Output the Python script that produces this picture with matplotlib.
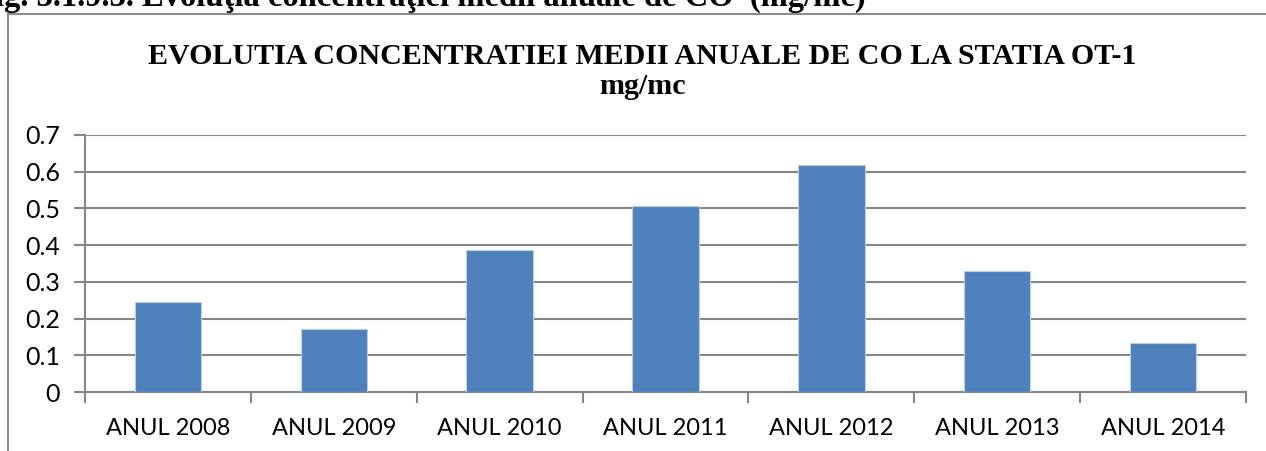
import matplotlib.pyplot as plt
from matplotlib.patches import Rectangle
from matplotlib.ticker import FixedLocator, NullFormatter

# Data
years = ["ANUL 2008", "ANUL 2009", "ANUL 2010", "ANUL 2011",
         "ANUL 2012", "ANUL 2013", "ANUL 2014"]
co_mg_mc = [0.245, 0.171, 0.387, 0.507, 0.619, 0.330, 0.133]
y_ticks = [0, 0.1, 0.2, 0.3, 0.4, 0.5, 0.6, 0.7]
y_labels = ["0", "0.1", "0.2", "0.3", "0.4", "0.5", "0.6", "0.7"]

BAR = "#4F81BD"
GRID = "#868686"
W, H = 1266, 451

fig = plt.figure(figsize=(W / 100, H / 100), dpi=100)

# outer chart frame (right and bottom run off the image)
fig.patches.append(Rectangle((8 / W, -0.1), 1.2, 1.1 - 14 / H,
                             transform=fig.transFigure, fill=False,
                             edgecolor="#8c8c8c", linewidth=1.5))

# caption above the frame, cut at the top of the image as in the source
fig.text(-16 / W, 1 - 6 / H, "fig. 3.1.9.3. Evoluţia concentraţiei medii anuale de CO  (mg/mc)",
         family="Liberation Serif", fontweight="bold", fontsize=23.5,
         ha="left", va="baseline")

fig.text(642 / W, 1 - 57 / H, "EVOLUTIA CONCENTRATIEI MEDII ANUALE DE CO LA STATIA OT-1",
         family="Liberation Serif", fontweight="bold", fontsize=21.6,
         ha="center", va="center")
fig.text(642 / W, 1 - 87 / H, "mg/mc",
         family="Liberation Serif", fontweight="bold", fontsize=21.6,
         ha="center", va="center")

ax = fig.add_axes([85 / W, 1 - 392 / H, (1246 - 85) / W, (392 - 135) / H])
x = range(len(years))
ax.bar(x, co_mg_mc, width=0.4, color=BAR, edgecolor="#b9cde5",
       linewidth=0.8, zorder=3)

ax.set_xlim(-0.5, len(years) - 0.5)
ax.set_ylim(0, 0.7)
ax.set_yticks(y_ticks)
ax.set_yticklabels(y_labels, family="Lato", fontsize=18)
ax.yaxis.grid(True, color=GRID, linewidth=1.5, zorder=0)

ax.set_xticks(list(x))
ax.set_xticklabels(years, family="Lato", fontsize=17)
ax.tick_params(axis="x", length=0, pad=19)
ax.xaxis.set_minor_locator(FixedLocator([i - 0.5 for i in range(len(years) + 1)]))
ax.xaxis.set_minor_formatter(NullFormatter())
ax.tick_params(axis="x", which="minor", length=8, width=1.5, color=GRID)
ax.tick_params(axis="y", length=8, width=1.5, color=GRID, pad=10)

for side in ["top", "right"]:
    ax.spines[side].set_visible(False)
for side in ["left", "bottom"]:
    ax.spines[side].set_color(GRID)
    ax.spines[side].set_linewidth(1.5)

fig.savefig("out.png", dpi=100)
